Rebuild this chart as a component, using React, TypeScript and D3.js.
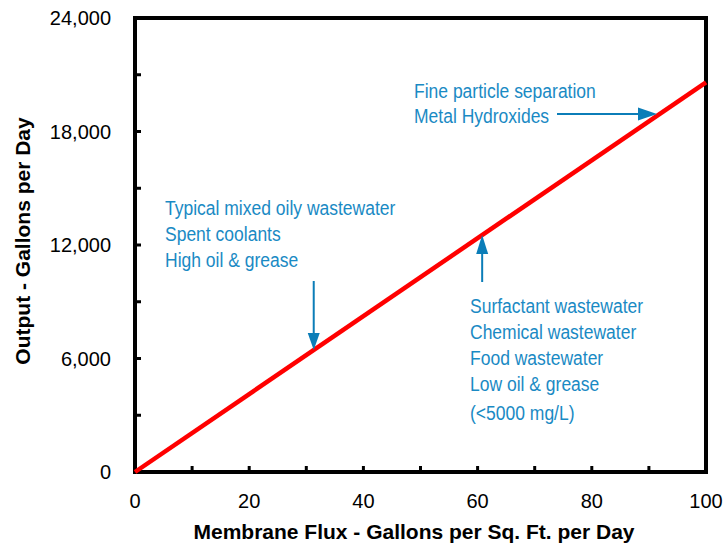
import React from "react";
import * as d3 from "d3";

const fluxDomain = [0, 100];
const outputDomain = [0, 24000];
const xTickLabels = [0, 20, 40, 60, 80, 100];
const xMinorTicks = [10, 20, 30, 40, 50, 60, 70, 80, 90];
const yTickLabels = [0, 6000, 12000, 18000, 24000];
const yMinorTicks = [3000, 6000, 9000, 12000, 15000, 18000, 21000];
const lineFlux = [0, 100];
const lineOutput = [0, 20600];

const noteLeft = ["Typical mixed oily wastewater", "Spent coolants", "High oil & grease"];
const noteRight = ["Surfactant wastewater", "Chemical wastewater", "Food wastewater", "Low oil & grease", "(<5000 mg/L)"];
const noteTop = ["Fine particle separation", "Metal Hydroxides"];

const W = 724, H = 546;
const left = 135, right = 706, top = 18, bottom = 472;

export default function App() {
  const x = d3.scaleLinear().domain(fluxDomain).range([left, right]);
  const y = d3.scaleLinear().domain(outputDomain).range([bottom, top]);
  const line = d3.line<number>().x((d, i) => x(lineFlux[i])).y((d) => y(d));
  const fmt = d3.format(",");
  const blue = "#1a8ac4";
  const arrow = "#0b7db8";
  const font = "'Liberation Sans', Arial, sans-serif";
  const sx = 0.875;

  const note = (s: string, nx: number, ny: number, k: string) => (
    <text key={k} transform={`translate(${nx},${ny}) scale(${sx},1)`} fontFamily={font} fontSize={20} fill={blue}>{s}</text>
  );

  return (
    <svg width={W} height={H} style={{ position: "absolute", left: 0, top: 0, background: "#fff" }}>
      <rect x={0} y={0} width={W} height={H} fill="#fff" />
      {xMinorTicks.map((t) => (
        <line key={"xt" + t} x1={x(t)} x2={x(t)} y1={bottom} y2={bottom - 6} stroke="#000" strokeWidth={3} />
      ))}
      {yMinorTicks.map((t) => (
        <line key={"yt" + t} x1={left} x2={left + 6} y1={y(t)} y2={y(t)} stroke="#000" strokeWidth={3} />
      ))}
      <rect x={left} y={top} width={right - left} height={bottom - top} fill="none" stroke="#000" strokeWidth={4} />
      <path d={line(lineOutput) || ""} fill="none" stroke="#ff0000" strokeWidth={4.5} />
      {xTickLabels.map((t) => (
        <text key={"xl" + t} x={x(t)} y={508} textAnchor="middle" fontFamily={font} fontSize={20} fill="#000">
          {t}
        </text>
      ))}
      {yTickLabels.map((t) => (
        <text key={"yl" + t} x={111} y={y(t) + 7} textAnchor="end" fontFamily={font} fontSize={20} fill="#000">
          {fmt(t)}
        </text>
      ))}
      <text x={414} y={539} textAnchor="middle" fontFamily={font} fontWeight="bold" fontSize={21} fill="#000">
        Membrane Flux - Gallons per Sq. Ft. per Day
      </text>
      <text transform={`translate(30,241) rotate(-90)`} textAnchor="middle" fontFamily={font} fontWeight="bold" fontSize={21} fill="#000">
        Output - Gallons per Day
      </text>
      {noteLeft.map((s, i) => note(s, 165, 215 + i * 26, "nl" + i))}
      {noteRight.map((s, i) => note(s, 470, [313, 339, 365, 391, 420][i], "nr" + i))}
      {noteTop.map((s, i) => note(s, 414, 98 + i * 25, "nt" + i))}
      <line x1={x(31.3)} x2={x(31.3)} y1={281} y2={336} stroke={arrow} strokeWidth={2} />
      <path d={`M${x(31.3) - 6},${333} L${x(31.3) + 6},${333} L${x(31.3)},${y(31.3 * 206)} Z`} fill={arrow} />
      <line x1={x(60.8)} x2={x(60.8)} y1={282} y2={250} stroke={arrow} strokeWidth={2} />
      <path d={`M${x(60.8) - 6},${254} L${x(60.8) + 6},${254} L${x(60.8)},${y(60.8 * 206)} Z`} fill={arrow} />
      <line x1={557} x2={642} y1={114} y2={114} stroke={arrow} strokeWidth={2} />
      <path d={`M${638},${107.5} L${638},${120.5} L${657},${114} Z`} fill={arrow} />
    </svg>
  );
}
